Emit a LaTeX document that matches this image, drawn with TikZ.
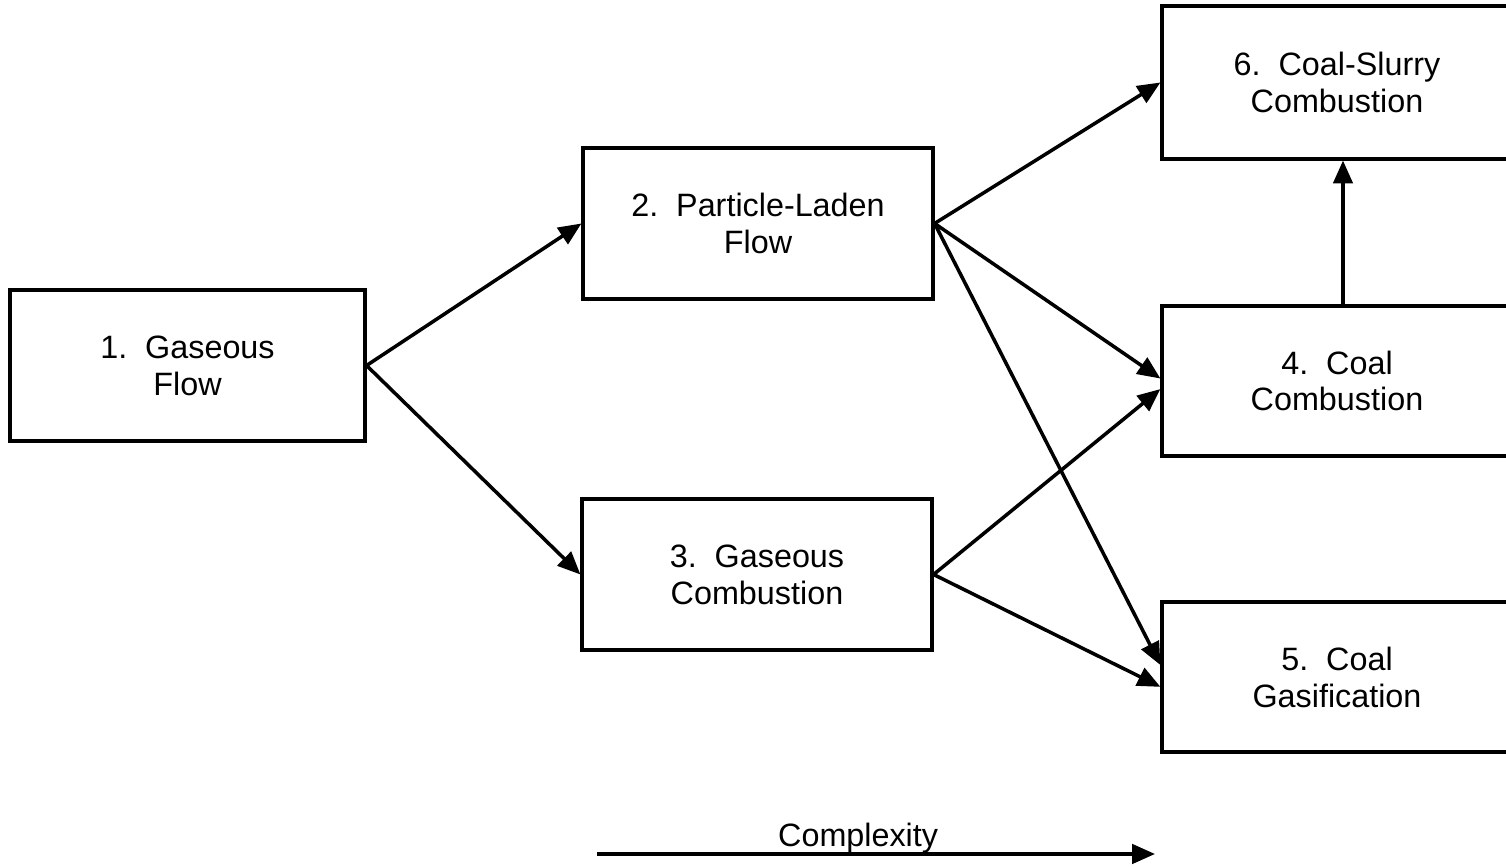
\documentclass[tikz,border=0pt]{standalone}
\usepackage{fontspec}
\setmainfont{Liberation Sans}
\usepackage{tikz}
\usetikzlibrary{calc,positioning,arrows,arrows.meta}
\tikzstyle{stage}     = [rectangle, draw=black, line width=0.9pt, minimum width=3.5cm, minimum height=1.51cm, align=center, font=\fontsize{9.2}{10.5}\selectfont]
\tikzstyle{arrow}     = [line width=1pt,-{Triangle[length=6.5pt,width=5.5pt]}]

\begin{document}
\begin{tikzpicture}[]
		\useasboundingbox (0,0) rectangle (15.06,-8.67);
		\clip (0,0) rectangle (15.06,-8.67);

		\node[stage, minimum width=3.55cm] (gas) at (1.875,-3.655) {1.~~Gaseous\\Flow};
		\node[stage] (part) at (7.58,-2.235) {2.~~Particle-Laden\\Flow};
		\node[stage] (comb) at (7.57,-5.745) {3.~~Gaseous\\Combustion};
		\node[stage, minimum height=1.53cm] (slurry) at (13.37,-0.825) {6.~~Coal-Slurry\\Combustion};
		\node[stage, minimum height=1.50cm] (coal) at (13.37,-3.81) {4.~~Coal\\Combustion};
		\node[stage, minimum height=1.50cm] (gasif) at (13.37,-6.77) {5.~~Coal\\Gasification};

		\draw[arrow] (gas.east) -- (part.west);
		\draw[arrow] (gas.east) -- (comb.west);

		\draw[arrow] (part.east) -- (slurry.west);
		\draw[arrow] (part.east) -- ([yshift=0.7pt]coal.west);
		\draw[arrow] (part.east) -- ([yshift=3.4pt]gasif.west);

		\draw[arrow] (comb.east) -- ([yshift=-2.3pt]coal.west);
		\draw[arrow] (comb.east) -- ([yshift=-2.8pt]gasif.west);

		\draw[arrow] ([xshift=0.06cm]coal.north) -- ([xshift=0.06cm]slurry.south);

		\coordinate (cstart) at (5.97,-8.54);
		\coordinate (cend) at (11.55,-8.54);
		\draw[arrow] (cstart) -- (cend) node[pos=0.468, anchor=base, yshift=2pt, font=\fontsize{9.2}{10.5}\selectfont] (cplx) {Complexity};
	\end{tikzpicture}
\end{document}
